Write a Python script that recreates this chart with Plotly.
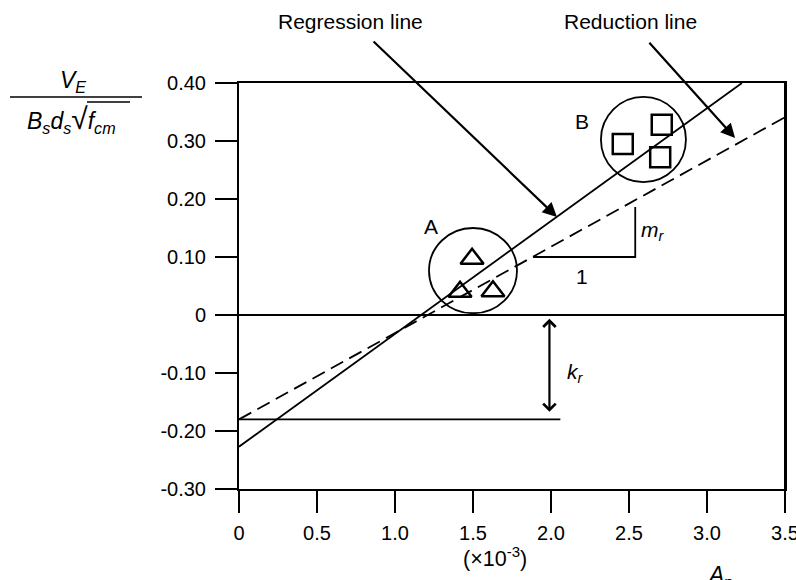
import plotly.graph_objects as go

# ---------------- data ----------------
x_tick_vals = [0, 0.5, 1.0, 1.5, 2.0, 2.5, 3.0, 3.5]
x_tick_text = ["0", "0.5", "1.0", "1.5", "2.0", "2.5", "3.0", "3.5"]
y_tick_vals = [0.4, 0.3, 0.2, 0.1, 0.0, -0.1, -0.2, -0.3]
y_tick_text = ["0.40", "0.30", "0.20", "0.10", "0", "-0.10", "-0.20", "-0.30"]

regression_x = [0.0, 3.224]
regression_y = [-0.227, 0.40]
reduction_x = [0.0, 3.5]
reduction_y = [-0.18, 0.341]
kr_line_x = [0.0, 2.06]
kr_line_y = [-0.18, -0.18]
slope_tri_x = [1.885, 2.54, 2.54]
slope_tri_y = [0.10, 0.10, 0.186]

group_a_x = [1.494, 1.417, 1.628]
group_a_y = [0.097, 0.040, 0.041]
group_b_x = [2.46, 2.71, 2.70]
group_b_y = [0.295, 0.328, 0.272]

circle_a = dict(x0=1.218, x1=1.782, y0=0.003, y1=0.150)
circle_b = dict(x0=2.32, x1=2.865, y0=0.229, y1=0.376)

FONT = "Liberation Sans, Arial, sans-serif"
BLACK = "black"

fig = go.Figure()

fig.add_trace(go.Scatter(x=regression_x, y=regression_y, mode="lines",
                         line=dict(color=BLACK, width=1.8), cliponaxis=False, showlegend=False))
fig.add_trace(go.Scatter(x=reduction_x, y=reduction_y, mode="lines",
                         line=dict(color=BLACK, width=1.8, dash="14px,7px"), cliponaxis=False, showlegend=False))
fig.add_trace(go.Scatter(x=kr_line_x, y=kr_line_y, mode="lines",
                         line=dict(color=BLACK, width=1.8), showlegend=False))
fig.add_trace(go.Scatter(x=slope_tri_x, y=slope_tri_y, mode="lines",
                         line=dict(color=BLACK, width=1.8), showlegend=False))
fig.add_trace(go.Scatter(x=group_a_x, y=group_a_y, mode="markers",
                         marker=dict(symbol="triangle-up-open", size=20, color=BLACK,
                                     line=dict(width=2.5, color=BLACK)), showlegend=False))
fig.add_trace(go.Scatter(x=group_b_x, y=group_b_y, mode="markers",
                         marker=dict(symbol="square-open", size=20, color=BLACK,
                                     line=dict(width=2.5, color=BLACK)), showlegend=False))

# circles around groups
for c in (circle_a, circle_b):
    fig.add_shape(type="circle", xref="x", yref="y", line=dict(color=BLACK, width=1.8), **c)

W, H = 796, 580
# plot-area edges in page pixels
L, R, T, B = 239, 785, 83, 489


def px(xp):
    return (xp - L) / (R - L)


def py(yp):
    return (B - yp) / (B - T)


# right frame edge drawn explicitly
fig.add_shape(type="line", xref="paper", yref="paper", x0=1, x1=1, y0=0, y1=1,
              line=dict(color=BLACK, width=2))
# fraction bar and radical overline of the y-axis label
fig.add_shape(type="line", xref="paper", yref="paper", x0=px(10), x1=px(142), y0=py(97), y1=py(97),
              line=dict(color=BLACK, width=1.5))
fig.add_shape(type="line", xref="paper", yref="paper", x0=px(87), x1=px(130), y0=py(102), y1=py(102),
              line=dict(color=BLACK, width=1.3))

C = dict(xanchor="center", yanchor="middle", showarrow=False)
ann = []
ann.append(dict(text="<i>V</i><sub><i>E</i></sub>", xref="paper", yref="paper", x=px(73), y=py(82),
                font=dict(size=23), **C))
ann.append(dict(text="<i>B</i><sub><i>s</i></sub><i>d</i><sub><i>s</i></sub>"
                     "<span style='font-size:30px'>√</span><i>f</i><sub><i>cm</i></sub>",
                xref="paper", yref="paper", x=px(71), y=py(119), font=dict(size=23), **C))
ann.append(dict(text="Regression line", xref="x", yref="paper", x=(350 - L) / 156, y=py(21),
                font=dict(size=21), **C))
ann.append(dict(text="Reduction line", xref="x", yref="paper", x=(630 - L) / 156, y=py(21),
                font=dict(size=21), **C))
# arrows
ann.append(dict(text="", x=2.038, y=0.169, ax=0.853, ay=0.474, xref="x", yref="y", axref="x", ayref="y",
                showarrow=True, arrowhead=2, arrowsize=1.3, arrowwidth=2.2, arrowcolor=BLACK))
ann.append(dict(text="", x=3.18, y=0.305, ax=2.622, ay=0.472, xref="x", yref="y", axref="x", ayref="y",
                showarrow=True, arrowhead=2, arrowsize=1.3, arrowwidth=2.2, arrowcolor=BLACK))
ann.append(dict(text="", x=1.99, y=-0.167, ax=1.99, ay=-0.004, xref="x", yref="y", axref="x", ayref="y",
                showarrow=True, arrowhead=4, startarrowhead=4, arrowside="end+start",
                arrowsize=1.1, startarrowsize=1.1, arrowwidth=2.2, arrowcolor=BLACK))
# labels
ann.append(dict(text="A", x=1.23, y=0.152, xref="x", yref="y", font=dict(size=21), **C))
ann.append(dict(text="B", x=2.2, y=0.334, xref="x", yref="y", font=dict(size=21), **C))
ann.append(dict(text="<i>m</i><sub><i>r</i></sub>", x=2.655, y=0.145, xref="x", yref="y",
                font=dict(size=21), **C))
ann.append(dict(text="1", x=2.2, y=0.066, xref="x", yref="y", font=dict(size=21), **C))
ann.append(dict(text="<i>k</i><sub><i>r</i></sub>", x=2.16, y=-0.10, xref="x", yref="y",
                font=dict(size=21), **C))
ann.append(dict(text="(×10<sup>-3</sup>)", x=(495 - L) / 156, y=py(557), xref="x", yref="paper",
                font=dict(size=21.5), **C))
ann.append(dict(text="<i>A</i><sub>p</sub>", x=(720 - L) / 156, y=py(576), xref="x", yref="paper",
                font=dict(size=23), **C))

fig.update_layout(
    width=W, height=H,
    margin=dict(l=L, r=W - R, t=T, b=H - B, pad=0, autoexpand=False),
    paper_bgcolor="white", plot_bgcolor="white",
    font=dict(family=FONT, color=BLACK, size=20),
    annotations=ann,
    showlegend=False,
    xaxis=dict(range=[0, 3.5], showgrid=False, zeroline=False, showline=True, linecolor=BLACK,
               linewidth=2, mirror=True, ticks="outside", ticklen=22, tickwidth=2, tickcolor=BLACK,
               tickvals=x_tick_vals, ticktext=x_tick_text, tickfont=dict(size=20),
               ticklabelstandoff=3, ticklabeloverflow="allow", automargin=False),
    yaxis=dict(range=[-0.3, 0.4], showgrid=False, zeroline=True, zerolinecolor=BLACK, zerolinewidth=2,
               showline=True, linecolor=BLACK, linewidth=2, mirror=True, ticks="outside", ticklen=22,
               tickwidth=2, tickcolor=BLACK, tickvals=y_tick_vals, ticktext=y_tick_text,
               tickfont=dict(size=20), ticklabelstandoff=5, automargin=False),
)

fig.write_html(
    "out.html",
    config={"displayModeBar": False},
    post_script="document.body.style.margin='0';document.body.style.overflow='hidden';"
                "document.documentElement.style.overflow='hidden';",
)
